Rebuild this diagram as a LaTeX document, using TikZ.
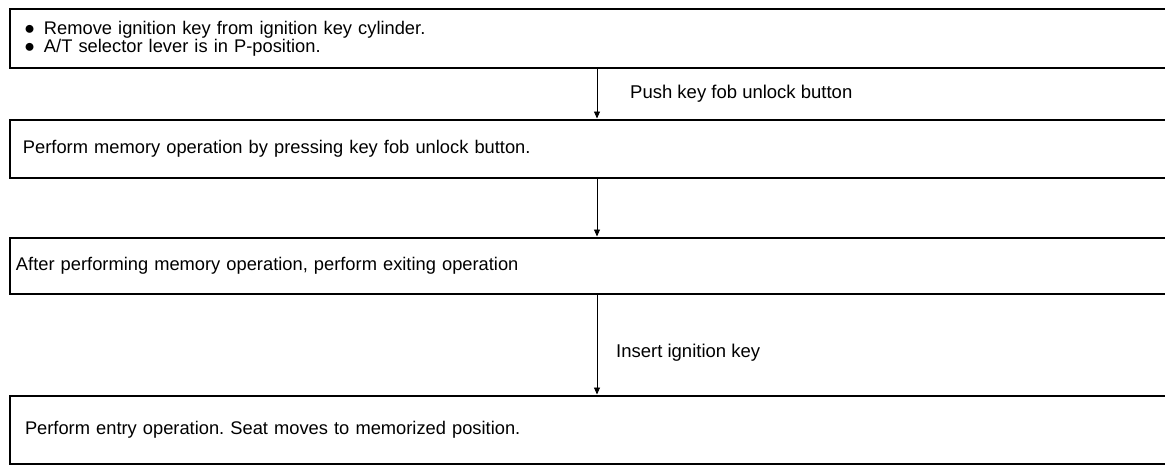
\documentclass[tikz,border=0pt]{standalone}
\usepackage{fontspec}
\setmainfont{Liberation Sans}
\usetikzlibrary{arrows.meta}
\frenchspacing
\begin{document}
\begin{tikzpicture}[x=1pt,y=-1pt,
  box/.style={draw, line width=2pt, anchor=north west, text width=1154pt, align=left, inner ysep=0pt, font=\fontsize{18.3}{17}\selectfont},
  arr/.style={-{Triangle[width=6pt,length=7pt]}, line width=0.9pt, shorten >=0.5pt},
  lbl/.style={anchor=west, inner sep=0pt, font=\fontsize{18.5}{22}\selectfont}]
\useasboundingbox (0,0) rectangle (1165,464);
\node[box, minimum height=59pt, inner xsep=14pt] (b1) at (9,8)
  {\makebox[20pt][l]{●}Remove ignition key from ignition key cylinder.\\
   \makebox[20pt][l]{●}A/T selector lever is in P-position.};
\node[box, minimum height=58pt, inner xsep=13pt] (b2) at (9,119)
  {Perform memory operation by pressing key fob unlock button.};
\node[box, minimum height=56pt, inner xsep=6pt] (b3) at (9,237)
  {After performing memory operation, perform exiting operation};
\node[box, minimum height=68pt, inner xsep=15pt] (b4) at (9,395)
  {Perform entry operation. Seat moves to memorized position.};
\draw[arr] ([xshift=588pt]b1.south west) -- ([xshift=588pt]b2.north west);
\draw[arr] ([xshift=588pt]b2.south west) -- ([xshift=588pt]b3.north west);
\draw[arr] ([xshift=588pt]b3.south west) -- ([xshift=588pt]b4.north west);
\node[lbl] (l1) at (630,94) {Push key fob unlock button};
\node[lbl] (l2) at (616,353) {Insert ignition key};
\end{tikzpicture}
\end{document}
